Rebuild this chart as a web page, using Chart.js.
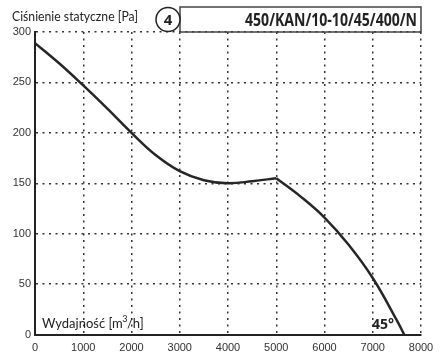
<!DOCTYPE html>
<html>
<head>
<meta charset="utf-8">
<script src="https://cdn.jsdelivr.net/npm/chart.js@4"></script>
<style>
  body { margin: 0; background: #fff; }
  #wrap { width: 441px; height: 362px; }
</style>
</head>
<body>
<div id="wrap"><canvas id="myChart" width="441" height="362"></canvas></div>
<script>
// curve, split at the kink at 5000 m3/h
const flowLeft = [0, 500, 1000, 1500, 2000, 2500, 3000, 3500, 4000, 4500, 5000];
const pressLeft = [289, 269, 247, 224, 200, 178, 162, 153, 150, 152, 155];
const flowRight = [5000, 5500, 6000, 6500, 7000, 7500, 7650];
const pressRight = [155, 137, 116, 89, 56, 14, 0];

const xTicks = [0, 1000, 2000, 3000, 4000, 5000, 6000, 7000, 8000];
const yTicks = [0, 50, 100, 150, 200, 250, 300];

const yTitle = 'Ciśnienie statyczne [Pa]';
const xTitle = 'Wydajność [m';
const modelNo = '4';
const modelName = '450/KAN/10-10/45/400/N';
const angleLabel = '45°';

function toPoints(xs, ys) {
  return xs.map(function(x, i) { return { x: x, y: ys[i] }; });
}

const lineColor = '#262626';

// header + inner labels
const labelsPlugin = {
  id: 'labels',
  afterDraw: function(chart) {
    const ctx = chart.ctx;
    const area = chart.chartArea;
    ctx.save();
    ctx.fillStyle = '#222';
    ctx.textBaseline = 'alphabetic';
    ctx.textAlign = 'left';
    ctx.font = '13px Lato, "DejaVu Sans", sans-serif';
    ctx.fillText(yTitle, 12, 21, 126);

    // box with model name
    ctx.strokeStyle = '#444';
    ctx.lineWidth = 1.5;
    ctx.strokeRect(180, 7, area.right - 180, 25);
    ctx.fillStyle = '#fff';
    ctx.beginPath();
    ctx.arc(168, 19.5, 12, 0, Math.PI * 2);
    ctx.fill();
    ctx.strokeStyle = '#222';
    ctx.stroke();
    ctx.fillStyle = '#222';
    ctx.textAlign = 'center';
    ctx.font = 'bold 15px "Open Sans", "DejaVu Sans", sans-serif';
    ctx.fillText(modelNo, 168, 25);
    ctx.textAlign = 'right';
    ctx.font = 'bold 17px "Open Sans", "DejaVu Sans", sans-serif';
    ctx.fillText(modelName, 417, 26, 172);

    // x axis title inside the plot
    ctx.textAlign = 'left';
    ctx.font = '13px Lato, "DejaVu Sans", sans-serif';
    let x = 42;
    ctx.fillText(xTitle, x, 328);
    x += ctx.measureText(xTitle).width - 0.5;
    ctx.font = '9px Lato, "DejaVu Sans", sans-serif';
    ctx.fillText('3', x, 322);
    x += ctx.measureText('3').width - 0.5;
    ctx.font = '13px Lato, "DejaVu Sans", sans-serif';
    ctx.fillText('/h]', x, 328);

    ctx.font = 'bold 14px "Open Sans", "DejaVu Sans", sans-serif';
    ctx.fillText(angleLabel, 372, 329);
    ctx.restore();
  }
};

const gridOpts = { color: '#333', lineWidth: 1.5, drawTicks: false };
const tickFont = { family: '"Liberation Sans", Arial, sans-serif', size: 11 };

const ctx = document.getElementById('myChart').getContext('2d');
const config = {
  type: 'line',
  data: {
    datasets: [{
      data: toPoints(flowLeft, pressLeft),
      borderColor: lineColor,
      borderWidth: 2.5,
      pointRadius: 0,
      fill: false,
      tension: 0.4
    }, {
      data: toPoints(flowRight, pressRight),
      borderColor: lineColor,
      borderWidth: 2.5,
      pointRadius: 0,
      fill: false,
      tension: 0.4
    }]
  },
  options: {
    responsive: false,
    animation: false,
    layout: { padding: { top: 32, right: 20, left: 0, bottom: 0 } },
    plugins: { legend: { display: false }, tooltip: { enabled: false } },
    scales: {
      x: {
        type: 'linear',
        min: xTicks[0],
        max: xTicks[xTicks.length - 1],
        afterBuildTicks: function(s) { s.ticks = xTicks.map(function(v) { return { value: v }; }); },
        afterFit: function(s) { s.height = 27.5; },
        border: { color: '#222', width: 2, dash: [2, 4.5] },
        grid: gridOpts,
        ticks: { color: '#333', padding: 7, maxRotation: 0, font: tickFont,
          callback: function(v) { return String(v); } }
      },
      y: {
        min: yTicks[0],
        max: yTicks[yTicks.length - 1],
        afterBuildTicks: function(s) { s.ticks = yTicks.map(function(v) { return { value: v }; }); },
        afterFit: function(s) { s.width = 35; },
        border: { color: '#222', width: 2, dash: [2, 4.5] },
        grid: gridOpts,
        ticks: { color: '#333', padding: 4, font: tickFont,
          callback: function(v) { return String(v); } }
      }
    }
  },
  plugins: [labelsPlugin]
};

const chart = new Chart(ctx, config);
</script>
</body>
</html>
